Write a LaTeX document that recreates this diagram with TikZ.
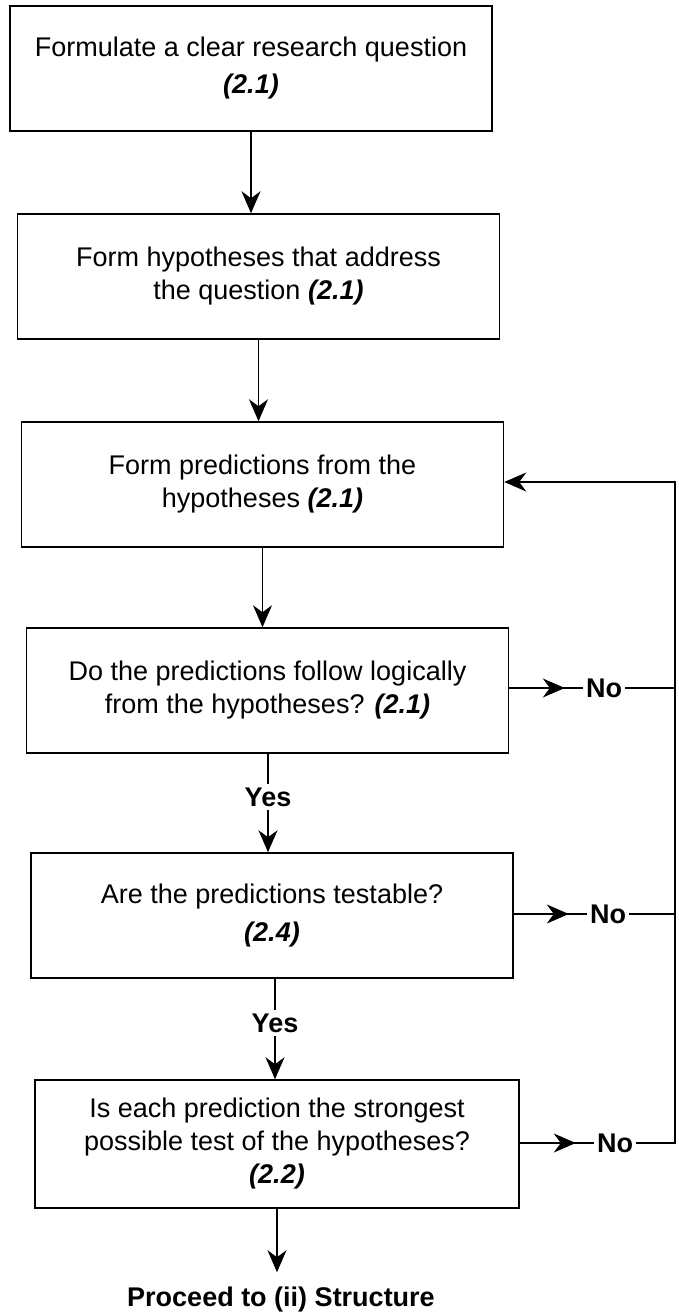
\documentclass[tikz,border=0pt]{standalone}
\usepackage{fontspec}
\setmainfont{Liberation Sans}
\usetikzlibrary{arrows.meta,decorations.markings}
\newcommand\secref[1]{\textbf{\textit{#1}}}
\begin{document}
\begin{tikzpicture}[x=1pt,y=-1pt,
  box/.style={draw, line width=1.5pt, minimum width=482pt, minimum height=125pt,
    align=center, inner sep=0pt, font=\fontsize{27}{33}\selectfont},
  lbl/.style={inner sep=3pt, font=\fontsize{27}{33}\selectfont\bfseries},
  line/.style={line width=1.4pt},
  tip/.tip={Stealth[length=22pt,width=19pt,inset=7pt]},
  arr/.style={line, -tip},
  midarr/.style={line, postaction={decorate},
    decoration={markings, mark=at position -18pt with {\arrow{tip}}}}
]
\useasboundingbox (0,0) rectangle (678,1313);

\node[box] (b1) at (251,68.5) {Formulate a clear research question\\[4pt] \secref{(2.1)}};
\node[box] (b2) at (258.5,276.5) {Form hypotheses that address\\ the question \secref{(2.1)}};
\node[box] (b3) at (262.5,484.5) {Form predictions from the\\ hypotheses \secref{(2.1)}};
\node[box] (b4) at (267.5,690.5) {Do the predictions follow logically\\ from the hypotheses? \secref{(2.1)}};
\node[box] (b5) at (272,915.5) {Are the predictions testable?\\[5pt] \secref{(2.4)}};
\node[box, minimum width=484pt, minimum height=128pt] (b6) at (277,1144)
  {Is each prediction the strongest\\ possible test of the hypotheses?\\ \secref{(2.2)}};

\node[lbl] (yes1) at (268,797) {Yes};
\node[lbl] (yes2) at (275,1023) {Yes};
\node[lbl] (no1) at (604,688) {No};
\node[lbl] (no2) at (608,914) {No};
\node[lbl] (no3) at (615,1143) {No};
\node[lbl] (end) at (281,1300) {Proceed to (ii) Structure};

\coordinate (rt) at (675,482);
\coordinate (rb) at (675,1143);

\draw[arr] (b1.south) -- (b1.south |- b2.north);
\draw[arr] (b2.south) -- (b2.south |- b3.north);
\draw[arr] (b3.south) -- (b3.south |- b4.north);
\draw[line] (yes1.north |- b4.south) -- (yes1.north);
\draw[arr] (yes1.south) -- (yes1.south |- b5.north);
\draw[line] (yes2.north |- b5.south) -- (yes2.north);
\draw[arr] (yes2.south) -- (yes2.south |- b6.north);
\draw[arr, shorten >=12pt] (b6.south) -- (b6.south |- end.north);

\draw[midarr] (b4.east |- no1.west) -- (no1.west);
\draw[midarr] (b5.east |- no2.west) -- (no2.west);
\draw[midarr] (b6.east |- no3.west) -- (no3.west);
\draw[line] (no1.east) -- (no1.east -| rt);
\draw[line] (no2.east) -- (no2.east -| rt);
\draw[arr] (no3.east) -- (rb) -- (rt) -- (rt -| b3.east);
\end{tikzpicture}
\end{document}
